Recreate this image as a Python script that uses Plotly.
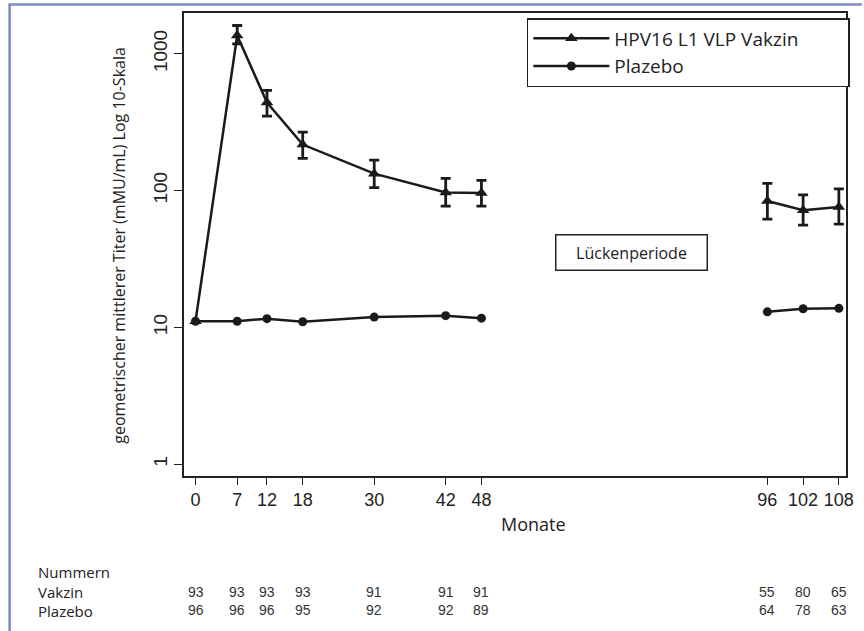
import numpy as np
import plotly.graph_objects as go

# ---------------- data ----------------
months = [0, 7, 12, 18, 30, 42, 48, 96, 102, 108]
month_labels = ["0", "7", "12", "18", "30", "42", "48", "96", "102", "108"]

vakzin_gmt = [11.1, 1360, 440, 217, 133, 97, 96, 84, 72, 76]
vakzin_upper = [None, 1610, 540, 268, 167, 123, 119, 113, 93, 103]
vakzin_lower = [None, 1180, 350, 172, 105, 77, 77, 62, 56, 57]

placebo_gmt = [11.1, 11.1, 11.6, 11.0, 11.9, 12.2, 11.7, 13.0, 13.7, 13.8]

n_vakzin = [93, 93, 93, 93, 91, 91, 91, 55, 80, 65]
n_placebo = [96, 96, 96, 95, 92, 92, 89, 64, 78, 63]

table_labels = ["Nummern", "Vakzin", "Plazebo"]

periods = [slice(0, 7), slice(7, 10)]  # before / after the gap period

# ---------------- figure ----------------
LABEL_FONT = "Open Sans"
NUM_FONT = "Liberation Sans"
NBSP = "\u00a0"

fig = go.Figure()

m = np.array(months, dtype=float)
vg = np.array(vakzin_gmt, dtype=float)
vu = np.array(vakzin_upper, dtype=float)
vl = np.array(vakzin_lower, dtype=float)
pg = np.array(placebo_gmt, dtype=float)

for i, sl in enumerate(periods):
    fig.add_trace(go.Scatter(
        x=m[sl], y=vg[sl], mode="lines+markers",
        name="HPV16 L1 VLP Vakzin" + NBSP * 9, legendgroup="v", showlegend=(i == 0),
        line=dict(color="#1a1a1a", width=2.5),
        marker=dict(symbol="triangle-up", size=11, color="#1a1a1a"),
        error_y=dict(type="data", symmetric=False,
                     array=(vu - vg)[sl], arrayminus=(vg - vl)[sl],
                     color="#1a1a1a", thickness=2.8, width=5),
    ))
for i, sl in enumerate(periods):
    fig.add_trace(go.Scatter(
        x=m[sl], y=pg[sl], mode="lines+markers",
        name="Plazebo", legendgroup="p", showlegend=(i == 0),
        line=dict(color="#1a1a1a", width=2.5),
        marker=dict(symbol="circle", size=9, color="#1a1a1a"),
    ))

ML, MR, MT, MB = 184, 10, 13, 155
W, H = 864, 631
PW, PH = W - ML - MR, H - MT - MB


def px_x(px):
    return (px - ML) / PW


def px_y(py):
    return (H - MB - py) / PH


annotations = []
# axis titles
annotations.append(dict(
    text="geometrischer mittlerer Titer (mMU/mL) Log 10-Skala",
    xref="paper", yref="paper", x=px_x(118), y=px_y(245),
    textangle=-90, showarrow=False, xanchor="center", yanchor="middle",
    font=dict(family=LABEL_FONT, size=16, color="#222")))
annotations.append(dict(
    text="Monate", xref="paper", yref="paper", x=px_x(538), y=px_y(524),
    showarrow=False, xanchor="center", yanchor="middle",
    font=dict(family=LABEL_FONT, size=18, color="#222")))
# gap period label
annotations.append(dict(
    text="Lückenperiode", xref="x", yref="y", x=73.2, y=np.log10(35.4),
    showarrow=False, xanchor="center", yanchor="middle",
    width=136, height=20, borderpad=7, bordercolor="#222", borderwidth=1.5,
    bgcolor="white",
    font=dict(family=LABEL_FONT, size=16, color="#222")))
# numbers table
annotations.append(dict(
    text="<br>".join(table_labels), xref="paper", yref="paper",
    x=px_x(34), y=px_y(591.5), align="left",
    showarrow=False, xanchor="left", yanchor="middle",
    font=dict(family=LABEL_FONT, size=15, color="#222")))
for mo, nv, npl in zip(months, n_vakzin, n_placebo):
    annotations.append(dict(
        text=f"{nv}<br>{npl}", xref="x", yref="paper", x=mo, y=px_y(600.5),
        showarrow=False, xanchor="center", yanchor="middle",
        font=dict(family=NUM_FONT, size=14, color="#333")))

shapes = [
    dict(type="line", xref="paper", yref="paper",
         x0=px_x(7.5), x1=px_x(7.5), y0=px_y(640), y1=px_y(4.5),
         line=dict(color="#7a8cc0", width=2.5)),
    dict(type="line", xref="paper", yref="paper",
         x0=px_x(6.3), x1=px_x(870), y0=px_y(4.5), y1=px_y(4.5),
         line=dict(color="#7a8cc0", width=2.5)),
]

fig.update_layout(
    width=W, height=H,
    margin=dict(l=ML, r=MR, t=MT, b=MB),
    paper_bgcolor="white", plot_bgcolor="white",
    showlegend=True,
    legend=dict(x=px_x(531), y=px_y(18), xanchor="left", yanchor="top",
                bgcolor="white", bordercolor="#222", borderwidth=1.5,
                font=dict(family=LABEL_FONT, size=19, color="#222"),
                itemwidth=76, tracegroupgap=0),
    annotations=annotations,
    shapes=shapes,
)
fig.update_xaxes(
    range=[-1.93, 109.2], tickmode="array", tickvals=months, ticktext=month_labels,
    ticks="outside", ticklen=7, tickwidth=1.2, tickcolor="#222",
    tickfont=dict(family=NUM_FONT, size=18, color="#222"),
    showgrid=False, zeroline=False, showline=True, mirror=True,
    linecolor="#222", linewidth=1.5)
fig.update_yaxes(
    type="log", range=[-0.0855, 3.298],
    tickmode="array", tickvals=[1, 10, 100, 1000], ticktext=["1", "10", "100", "1000"],
    tickangle=-90, ticks="outside", ticklen=8, tickwidth=1.2, tickcolor="#222",
    tickfont=dict(family=NUM_FONT, size=19, color="#222"),
    showgrid=False, zeroline=False, showline=True, mirror=True,
    linecolor="#222", linewidth=1.5)

fig.write_html("out.html", config={"displayModeBar": False},
               post_script="document.body.style.margin='0px';")
